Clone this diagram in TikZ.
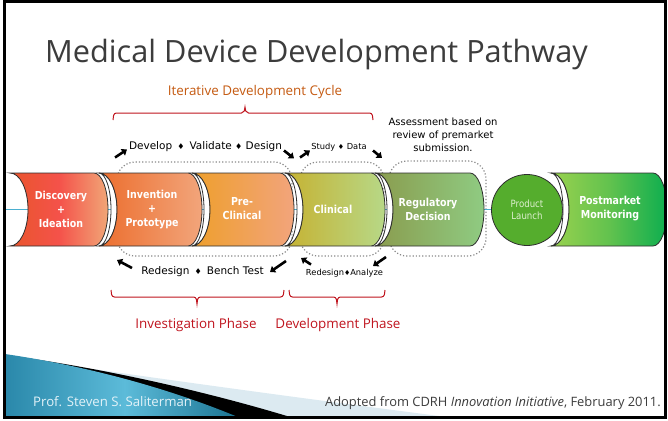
\documentclass[tikz,border=0pt]{standalone}
\usepackage{fontspec}
\setmainfont{Open Sans}
\newfontfamily\dvs{DejaVu Sans}
\newfontfamily\dvsn[FakeStretch=0.86]{DejaVu Sans}
\usetikzlibrary{arrows.meta}
\definecolor{titlegray}{HTML}{3C3C3C}
\definecolor{cycorange}{HTML}{C55A11}
\definecolor{bracered}{HTML}{C0141E}
\definecolor{axisblue}{HTML}{4BAFD0}
\definecolor{dotgray}{HTML}{8A8A8A}
\definecolor{outline}{HTML}{2E2E2E}
\definecolor{cAl}{HTML}{E9552C}\definecolor{cAm}{HTML}{F4524A}\definecolor{cAr}{HTML}{F1A677}
\definecolor{cBl}{HTML}{EC6E2E}\definecolor{cBr}{HTML}{F2A57B}
\definecolor{cCl}{HTML}{EE9F2C}\definecolor{cCr}{HTML}{F2A47C}
\definecolor{cDl}{HTML}{C6B232}\definecolor{cDr}{HTML}{B7D887}
\definecolor{cEl}{HTML}{8A9C4E}\definecolor{cEr}{HTML}{8FCB82}
\definecolor{cF}{HTML}{55AD2D}
\definecolor{cGl}{HTML}{9AD24E}\definecolor{cGm}{HTML}{62C24E}\definecolor{cGr}{HTML}{0DAE4F}
\definecolor{launchtxt}{HTML}{DDEFCF}
\definecolor{swlight}{HTML}{DCEAF1}
\definecolor{swtealL}{HTML}{2A88AA}\definecolor{swtealM}{HTML}{5CBBD9}\definecolor{swtealR}{HTML}{176F8D}
\definecolor{footwhite}{HTML}{E2F2F8}
\newcommand\segbody[2]{(#1,173) -- (#2,173) arc[start angle=90,end angle=-90,x radius=14pt,y radius=36.5pt] -- (#1,246) arc[start angle=-90,end angle=90,x radius=18pt,y radius=36.5pt] -- cycle}
\newcommand\segcap[1]{\draw[capline] (#1,173) arc[start angle=90,end angle=-90,x radius=12pt,y radius=36.5pt] arc[start angle=-90,end angle=90,x radius=18pt,y radius=36.5pt] -- cycle;}
\begin{document}
\begin{tikzpicture}[x=1pt,y=-1pt,
  capline/.style={draw=outline,line width=0.8pt,fill=white},
  bodyline/.style={draw=outline,line width=0.8pt},
  shapetxt/.style={text=white,font=\dvsn\bfseries\fontsize{11}{14}\selectfont,align=center,inner sep=0pt},
  looptxt/.style={text=black,font=\dvs\fontsize{10.5}{12}\selectfont,inner sep=0pt},
  smalltxt/.style={text=black,font=\dvs\fontsize{8.3}{10}\selectfont,inner sep=0pt},
  loopbox/.style={draw=dotgray,dotted,line width=1.2pt,rounded corners=18pt},
  bracestyle/.style={draw=bracered,line width=1pt},
  phasetxt/.style={text=bracered,font=\fontsize{13.4}{15}\selectfont,inner sep=0pt},
  blkarrow/.style={line width=2.6pt,-{Triangle[length=5pt,width=7.5pt]}}
]
\useasboundingbox (0,0) rectangle (668,420);
\fill[white] (0,0) rectangle (668,420);
\begin{scope}
\clip (5,2) rectangle (665,417);
% title
\node[anchor=base west,text=titlegray,font=\fontsize{30.7}{31}\selectfont,inner sep=0pt] (title) at (45,62) {Medical Device Development Pathway};
% iterative cycle label and brace
\node[text=cycorange,font=\fontsize{13.4}{15}\selectfont,inner sep=0pt] (cycle) at (255,92) {Iterative Development Cycle};
\draw[bracestyle] (113,120) to[out=90,in=180] (116.5,113) -- (241.5,113) to[out=0,in=-90] (245,107) to[out=-90,in=180] (248.5,113) -- (369.5,113) to[out=0,in=90] (373,120);
% assessment
\node[text=black,font=\dvs\fontsize{10}{13}\selectfont,align=center,inner sep=0pt] (assess) at (443,135) {Assessment based on\\review of premarket\\submission.};
% dotted loops
\draw[loopbox] (117,162) rectangle (292,256);
\draw[loopbox] (300,162) rectangle (384,256);
\draw[loopbox] (389,161) rectangle (486,256);
% axis line
\draw[axisblue,line width=1.5pt] (0,209.5) -- (668,209.5);
% segments
\path[bodyline,left color=cAl,right color=cAr,middle color=cAm] \segbody{10}{94};
\segcap{99}
\path[bodyline,left color=cBl,right color=cBr] \segbody{99}{188};
\segcap{192}
\path[bodyline,left color=cCl,right color=cCr] \segbody{192}{280};
\segcap{285}
\path[bodyline,left color=cDl,right color=cDr] \segbody{285}{371};
\segcap{375}
\path[bodyline,left color=cEl,right color=cEr] \segbody{375}{470};
\node[circle,minimum size=71pt,inner sep=0pt,fill=cF,draw=outline,line width=0.8pt] (launch) at (527,210) {};
\segcap{551}
\path[bodyline,left color=cGl,right color=cGr,middle color=cGm] \segbody{551}{653};
% shape labels
\node[shapetxt] (disc) at (61,209.5) {Discovery\\+\\Ideation};
\node[shapetxt] (inv) at (152,209.5) {Invention\\+\\Prototype};
\node[shapetxt] (pre) at (242,209) {Pre-\\Clinical};
\node[shapetxt] (clin) at (333,209.5) {Clinical};
\node[shapetxt] (reg) at (428,209) {Regulatory\\Decision};
\node[text=launchtxt,font=\dvsn\fontsize{10}{12}\selectfont,align=center,inner sep=0pt] (launchtxt) at (527,209.5) {Product\\Launch};
\node[shapetxt] (post) at (610,209) {Postmarket\\Monitoring};
% loop texts
\node[looptxt] (dvd) at (205.5,147) {Develop \,{\fontsize{8}{10}\selectfont ♦}\, Validate {\fontsize{8}{10}\selectfont ♦} Design};
\node[smalltxt] (sd) at (339,147.5) {Study {\fontsize{7}{9}\selectfont ♦} Data};
\node[looptxt] (rbt) at (202.5,272) {Redesign \,{\fontsize{8}{10}\selectfont ♦}\, Bench Test};
\node[smalltxt] (ra) at (344.5,273) {Redesign{\fontsize{7}{9}\selectfont ♦}Analyze};
% small arrows
\coordinate (a1s) at (115,157.5); \coordinate (a1e) at (127,149.5);
\coordinate (a2s) at (284,150.5); \coordinate (a2e) at (294,158.5);
\coordinate (a3s) at (300,157.5); \coordinate (a3e) at (310,150.5);
\coordinate (a4s) at (373,150.5); \coordinate (a4e) at (382,158);
\coordinate (a5s) at (132,268); \coordinate (a5e) at (117,260);
\coordinate (a6s) at (286,261); \coordinate (a6e) at (270,272);
\coordinate (a7s) at (311,264.5); \coordinate (a7e) at (301,258);
\coordinate (a8s) at (386,257); \coordinate (a8e) at (373,266);
\foreach \s/\e in {a1s/a1e,a2s/a2e,a3s/a3e,a4s/a4e,a5s/a5e,a6s/a6e,a7s/a7e,a8s/a8e}
  \draw[blkarrow] (\s) -- (\e);
% bottom braces
\draw[bracestyle] (111,290) to[out=-90,in=180] (114.5,297) -- (193.5,297) to[out=0,in=90] (197,304) to[out=90,in=180] (200.5,297) -- (280.5,297) to[out=0,in=-90] (284,290);
\draw[bracestyle] (289,290) to[out=-90,in=180] (292.5,297) -- (333.5,297) to[out=0,in=90] (337,304) to[out=90,in=180] (340.5,297) -- (381.5,297) to[out=0,in=-90] (385,290);
\node[phasetxt] (invph) at (196,325) {Investigation Phase};
\node[phasetxt] (devph) at (338,325) {Development Phase};
% swoosh
\fill[swlight] (5,356) .. controls (150,378) and (330,402) .. (470,420) -- (5,420) -- cycle;
\fill[black] (5,355) .. controls (90,366) and (200,389) .. (300,420) -- (5,420) -- cycle;
\path[left color=swtealL,right color=swtealR,middle color=swtealM] (5,354) .. controls (80,365) and (165,386) .. (245,420) -- (5,420) -- cycle;
\node[anchor=west,text=footwhite,font=\fontsize{13.2}{15}\selectfont,inner sep=0pt] (prof) at (33,402) {Prof. Steven S. Saliterman};
\node[anchor=east,text=titlegray,font=\fontsize{12.9}{15}\selectfont,inner sep=0pt] (adopt) at (661,403) {Adopted from CDRH \textit{Innovation Initiative}, February 2011.};
\end{scope}
\draw[black,line width=3pt] (4.5,1.5) rectangle (665.5,417.5);
\end{tikzpicture}
\end{document}
